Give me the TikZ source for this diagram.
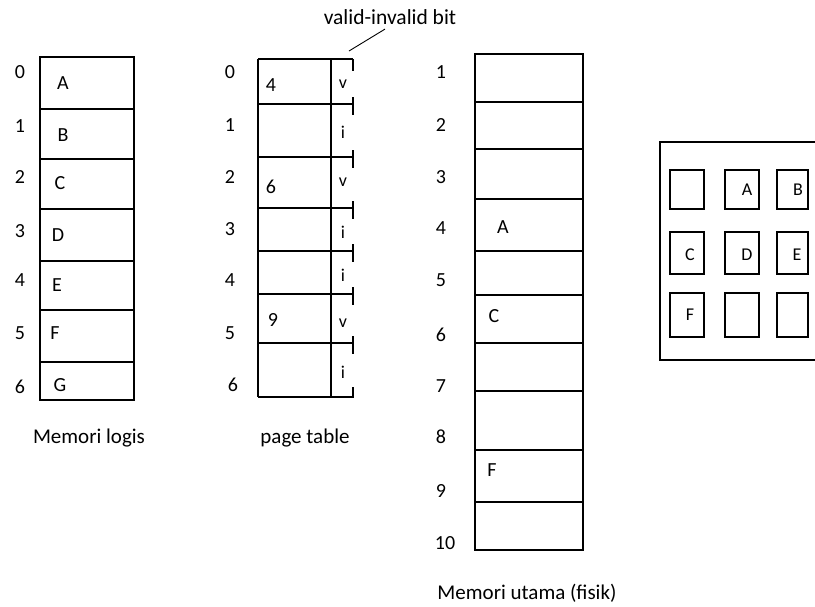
\documentclass[tikz,border=0pt]{standalone}
\usepackage{fontspec}
\setmainfont{Carlito}
\begin{document}
\begin{tikzpicture}[x=1pt,y=-1pt,line width=1.2pt,
  txt/.style={inner sep=0pt,font=\fontsize{20}{24}\selectfont,text height=12.5pt,text depth=0pt},
  captxt/.style={inner sep=0pt,font=\fontsize{21}{24}\selectfont,text height=13pt,text depth=0pt},
  small/.style={inner sep=0pt,font=\fontsize{18}{22}\selectfont,text height=11.5pt,text depth=0pt},
  bit/.style={inner sep=0pt,font=\fontsize{18}{22}\selectfont}]
\useasboundingbox (0,0) rectangle (815,606);
\clip (0,0) rectangle (815,606);
% ---------- logical memory ----------
\draw (40,57) rectangle (134,400);
\foreach \y in {109,159,209,261,310,362} \draw (40,\y) -- (134,\y);
\foreach \t/\y in {0/72,1/126,2/177,3/231,4/280,5/333,6/387}
  \node[txt] (li\t) at (20,\y) {\t};
\node[txt] (lA) at (63,83) {A};
\node[txt] (lB) at (63,135) {B};
\node[txt] (lC) at (60,183) {C};
\node[txt] (lD) at (58,235) {D};
\node[txt] (lE) at (57,285) {E};
\node[txt] (lF) at (55,333) {F};
\node[txt] (lG) at (60,385) {G};
\node[captxt] (capL) at (89,437) {Memori logis};
% ---------- page table ----------
\draw (258,59) -- (353,59);
\draw (353,59) -- (353,71);
\foreach \y in {104,157,208,251,294,343} {
  \draw (258,\y) -- (353,\y);
  \draw (353,\y-7) -- (353,\y+11);
}
\draw (258,397) -- (331,397);
\draw (353,387) -- (353,397) -- (331,397);
\draw (258,59) -- (258,397);
\draw (331,59) -- (331,397);
\foreach \t/\x/\y in {0/230/72,1/230/125,2/230/177,3/230/229,4/230/280,5/230/333,6/233/385}
  \node[txt] (pi\t) at (\x,\y) {\t};
\node[txt] (p4) at (271,85) {4};
\node[txt] (p6) at (271,187) {6};
\node[txt] (p9) at (273,320) {9};
\node[bit] (b0) at (343,84) {v};
\node[bit] (b1) at (343,132) {i};
\node[bit] (b2) at (343,182) {v};
\node[bit] (b3) at (343,232) {i};
\node[bit] (b4) at (343,275) {i};
\node[bit] (b5) at (343,323) {v};
\node[bit] (b6) at (343,372) {i};
\node[captxt] (capP) at (305,437) {page table};
\node[captxt,font=\fontsize{21.5}{24}\selectfont] (vib) at (390,18) {valid-invalid bit};
\coordinate (vibend) at (349,51);
\draw[line width=0.9pt] (vib.south) ++(-5,4) -- (vibend);
% ---------- physical memory ----------
\draw (475,54) rectangle (583,550);
\foreach \y in {102,149,199,251,295,343,391,450,502} \draw (475,\y) -- (583,\y);
\foreach \t/\x/\y in {1/441/72,2/441/125,3/441/177,4/441/228,5/441/280,6/441/335,7/441/386,8/441/437,9/441/491,10/445/543}
  \node[txt] (fi\t) at (\x,\y) {\t};
\node[txt] (fA) at (503,227) {A};
\node[txt] (fC) at (494,316) {C};
\node[txt] (fF) at (492,470) {F};
\node[captxt] (capF) at (527,593) {Memori utama (fisik)};
% ---------- frame grid ----------
\draw (830,142) -- (660,142) -- (660,360) -- (830,360);
\foreach \xa/\xb in {670/704,725/759,777/808}
  \foreach \ya/\yb in {170/209,232/274,293/337}
    \draw (\xa,\ya) rectangle (\xb,\yb);
\node[small] (gA) at (747,190) {A};
\node[small] (gB) at (798,190) {B};
\node[small] (gC) at (690,255) {C};
\node[small] (gD) at (747,255) {D};
\node[small] (gE) at (797,255) {E};
\node[small] (gF) at (690,315) {F};
\end{tikzpicture}
\end{document}
